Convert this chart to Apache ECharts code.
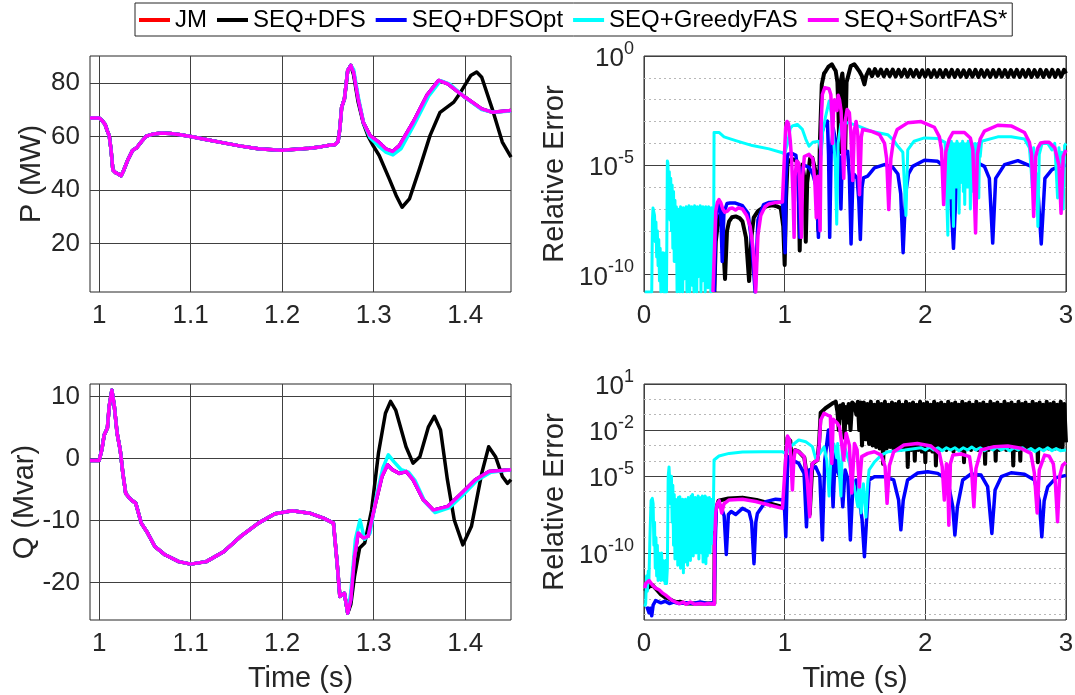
<!DOCTYPE html>
<html><head><meta charset="utf-8">
<script src="https://cdn.jsdelivr.net/npm/echarts@6/dist/echarts.min.js"></script>
<style>html,body{margin:0;padding:0;background:#fff}#c{width:1075px;height:695px}</style>
</head><body><div id="c"></div>
<script>
// ---------------- DATA ----------------
const seriesNames = ['JM', 'SEQ+DFS', 'SEQ+DFSOpt', 'SEQ+GreedyFAS', 'SEQ+SortFAS*'];
const seriesColors = ['#ff0000', '#000000', '#0000ff', '#00ffff', '#ff00ff'];

const leftTimeTicks = [1, 1.1, 1.2, 1.3, 1.4];
const pTicks = [20, 40, 60, 80];
const qTicks = [-20, -10, 0, 10];
const errPMajorExp = [-10, -5, 0];
const errPMinorExp = [-9, -8, -7, -6, -4, -3, -2, -1];
const errQMajorExp = [-10, -5, -2, 1];
const errQMinorExp = [-14, -13, -12, -11, -9, -8, -7, -6, -4, -3, -1, 0];

// P (MW): part where all methods coincide
const pShared = [[0.99,66.9],[1.0,66.9],[1.003,66],[1.0065,64.5],[1.009,62],[1.011,60.3],[1.013,55],[1.015,47.5],[1.018,46.5],[1.021,46],[1.024,45.3],[1.027,47.5],[1.031,51],[1.0365,54.8],[1.041,55.8],[1.046,58],[1.0515,60.1],[1.058,60.8],[1.068,61.3],[1.078,61.1],[1.087,60.7],[1.1,60],[1.118,58.8],[1.136,57.6],[1.155,56.4],[1.174,55.4],[1.19,55],[1.2,54.9],[1.215,55.2],[1.23,55.6],[1.243,56.2],[1.253,56.8],[1.258,57],[1.261,58],[1.263,63],[1.265,71],[1.268,74],[1.2716,84.6],[1.275,86.5]];
// JM, SEQ+DFSOpt and SEQ+SortFAS* coincide
const pTailRef = [[1.278,84],[1.283,74],[1.2886,65.3],[1.296,60.3],[1.3055,57.9],[1.313,55.4],[1.3205,54.4],[1.328,56.6],[1.343,65.3],[1.358,75.3],[1.371,80.9],[1.381,79.6],[1.3995,74.7],[1.418,70.3],[1.43,69],[1.45,69.7]];
const pTailGreedy = [[1.278,85],[1.283,75],[1.289,65],[1.296,59.5],[1.305,56.5],[1.313,54.2],[1.321,53.1],[1.33,55.5],[1.345,65],[1.36,75],[1.373,80.8],[1.383,79.5],[1.4,74.5],[1.418,70],[1.43,69],[1.45,69.5]];
const pTailDFS = [[1.278,83],[1.283,72.8],[1.2886,65],[1.294,60],[1.2995,56.5],[1.306,52.9],[1.317,44.2],[1.3245,38],[1.331,33.6],[1.339,36.7],[1.35,47.9],[1.3615,60.3],[1.3725,69],[1.3875,72.8],[1.395,76.5],[1.406,82.7],[1.4125,84],[1.418,82.1],[1.4295,70.3],[1.4405,57.9],[1.45,52.3]];

// Q (Mvar)
const qShared = [[0.99,-0.3],[1.0,-0.3],[1.003,1.5],[1.0055,3.8],[1.009,4.9],[1.011,8.4],[1.0139,11],[1.0166,8.4],[1.0196,4.1],[1.023,1.4],[1.026,-2.5],[1.029,-5.6],[1.0346,-6.6],[1.04,-7.2],[1.046,-10.4],[1.053,-12],[1.061,-14.2],[1.072,-15.5],[1.087,-16.6],[1.1,-17],[1.117,-16.6],[1.136,-15],[1.155,-12.5],[1.174,-10.4],[1.192,-8.9],[1.211,-8.4],[1.23,-8.8],[1.245,-9.6],[1.256,-10.4],[1.26,-16.8],[1.263,-22.2],[1.268,-21.7],[1.2716,-24.9]];
const qTailRef = [[1.275,-22.7],[1.279,-15.8],[1.283,-12],[1.289,-12.8],[1.294,-12.5],[1.302,-7.2],[1.309,-2.9],[1.315,-1],[1.3205,-1.8],[1.328,-2.4],[1.3356,-2.1],[1.343,-3.4],[1.354,-6.6],[1.365,-8.3],[1.381,-7.7],[1.396,-5.6],[1.411,-3.4],[1.426,-2.1],[1.45,-1.8]];
const qTailGreedy = [[1.275,-21.5],[1.28,-13],[1.285,-9.9],[1.29,-13],[1.296,-12],[1.303,-6],[1.31,-1.5],[1.316,0.6],[1.322,-0.5],[1.33,-1.8],[1.338,-2.2],[1.345,-3.5],[1.356,-7],[1.367,-8.7],[1.383,-7.9],[1.398,-5.8],[1.413,-3.5],[1.428,-2.2],[1.45,-1.8]];
const qTailDFS = [[1.275,-23.5],[1.279,-19],[1.2846,-14.4],[1.2902,-13.6],[1.2977,-8.3],[1.3052,0.9],[1.3128,7.3],[1.3184,9.2],[1.324,7.8],[1.3353,1.9],[1.3429,-0.75],[1.3504,0.3],[1.3598,5.1],[1.3662,6.8],[1.373,4.6],[1.3805,-3.4],[1.388,-9.9],[1.3974,-13.9],[1.4068,-10.9],[1.418,-2.4],[1.4256,1.9],[1.4331,0.3],[1.4406,-2.9],[1.4462,-4],[1.45,-3.4]];

// Relative error of P, stored as [time, log10(error)]
const errPDFS = [[0.5,-10.8],[0.51,-8.5],[0.53,-7.4],[0.545,-7.26],[0.56,-8.2],[0.576,-10.2],[0.59,-8.0],[0.605,-7.57],[0.625,-7.38],[0.652,-7.34],[0.68,-7.42],[0.7,-7.57],[0.725,-8.3],[0.747,-10.3],[0.765,-8.2],[0.78,-7.4],[0.81,-7.1],[0.84,-6.96],[0.88,-6.86],[0.913,-6.83],[0.945,-6.88],[0.972,-6.96],[0.99,-7.8],[1.0,-9.56],[1.01,-6.5],[1.02,-4.9],[1.05,-4.7],[1.085,-4.8],[1.1,-6.0],[1.107,-8.9],[1.115,-6.0],[1.126,-4.97],[1.14,-5.6],[1.15,-8.5],[1.16,-5.8],[1.18,-4.7],[1.197,-4.66],[1.22,-5.3],[1.24,-8.0],[1.25,-4.0],[1.264,-1.3],[1.28,-0.8],[1.292,-0.69],[1.31,-0.5],[1.335,-0.38],[1.35,-0.55],[1.363,-0.69],[1.375,-1.2],[1.382,-2.5],[1.39,-4.4],[1.398,-1.2],[1.41,-0.8],[1.42,-1.5],[1.43,-4.4],[1.44,-1.2],[1.47,-0.46],[1.495,-0.38],[1.515,-0.55],[1.53,-0.69],[1.548,-0.9],[1.567,-1.3],[1.58,-0.9],[1.6,-0.62],[1.621,-0.92],[1.642,-0.6],[1.663,-0.9],[1.684,-0.62],[1.705,-0.93],[1.726,-0.63],[1.747,-0.92],[1.768,-0.62],[1.789,-0.94],[1.81,-0.63],[1.831,-0.93],[1.852,-0.62],[1.873,-0.95],[1.894,-0.63],[1.915,-0.94],[1.936,-0.64],[1.957,-0.96],[1.978,-0.65],[1.999,-0.95],[2.02,-0.64],[2.041,-0.96],[2.062,-0.65],[2.083,-0.95],[2.104,-0.64],[2.125,-0.96],[2.146,-0.64],[2.167,-0.95],[2.188,-0.63],[2.209,-0.96],[2.23,-0.64],[2.251,-0.95],[2.272,-0.65],[2.293,-0.96],[2.314,-0.64],[2.335,-0.95],[2.356,-0.63],[2.377,-0.96],[2.398,-0.64],[2.419,-0.95],[2.44,-0.65],[2.461,-0.96],[2.482,-0.64],[2.503,-0.95],[2.524,-0.63],[2.545,-0.95],[2.566,-0.64],[2.587,-0.96],[2.608,-0.64],[2.629,-0.95],[2.65,-0.63],[2.671,-0.96],[2.692,-0.64],[2.713,-0.95],[2.734,-0.63],[2.755,-0.96],[2.776,-0.64],[2.797,-0.95],[2.818,-0.63],[2.839,-0.96],[2.86,-0.64],[2.881,-0.95],[2.902,-0.63],[2.923,-0.96],[2.944,-0.64],[2.965,-0.95],[2.986,-0.63],[3.0,-0.8]];
const errPDFSOpt = [[0.5,-10.8],[0.51,-7.5],[0.53,-6.8],[0.545,-7.0],[0.556,-9.4],[0.568,-7.2],[0.59,-6.75],[0.61,-6.73],[0.65,-6.73],[0.7,-6.85],[0.74,-7.2],[0.765,-8.5],[0.79,-10.8],[0.81,-7.5],[0.85,-6.8],[0.89,-6.7],[0.94,-6.68],[0.984,-6.7],[0.995,-7.6],[1.003,-9.0],[1.01,-5.5],[1.02,-4.5],[1.05,-4.45],[1.08,-4.55],[1.095,-5.5],[1.107,-8.3],[1.12,-5.2],[1.14,-5.0],[1.173,-5.1],[1.2,-5.4],[1.225,-6.0],[1.24,-8.3],[1.255,-4.5],[1.268,-3.44],[1.285,-3.1],[1.304,-2.98],[1.312,-4.5],[1.32,-8.3],[1.33,-4.5],[1.345,-3.3],[1.36,-3.8],[1.37,-4.8],[1.377,-4.36],[1.39,-4.7],[1.4,-7.0],[1.41,-4.6],[1.448,-4.36],[1.46,-5.5],[1.472,-8.6],[1.485,-5.6],[1.496,-5.43],[1.515,-5.6],[1.527,-6.6],[1.538,-8.4],[1.55,-6.0],[1.56,-5.58],[1.59,-5.5],[1.638,-5.12],[1.709,-4.97],[1.768,-5.09],[1.805,-5.4],[1.825,-6.3],[1.842,-9.0],[1.86,-6.3],[1.88,-5.4],[1.91,-5.05],[1.993,-4.77],[2.088,-4.82],[2.14,-5.1],[2.175,-5.7],[2.2,-8.8],[2.222,-5.7],[2.255,-5.1],[2.3,-4.9],[2.35,-4.82],[2.42,-5.05],[2.455,-5.6],[2.479,-8.56],[2.5,-5.6],[2.563,-4.97],[2.658,-4.79],[2.753,-5.05],[2.795,-5.6],[2.824,-8.6],[2.85,-5.6],[2.9,-5.2],[2.95,-5.05],[3.0,-5.0]];
const errPGreedy = [[0.005,-10.8],[0.055,-10.8],[0.06,-7.5],[0.064,-6.96],[0.07,-7.0],[0.075,-7.3],[0.08,-8.5],[0.085,-7.6],[0.09,-9.2],[0.095,-8.0],[0.1,-9.6],[0.105,-8.4],[0.11,-10.3],[0.115,-8.8],[0.12,-10.8],[0.125,-9.2],[0.13,-10.5],[0.135,-9.0],[0.14,-10.8],[0.145,-9.5],[0.15,-10.8],[0.155,-9.0],[0.16,-10.8],[0.166,-4.8],[0.17,-4.9],[0.175,-6.5],[0.18,-5.3],[0.185,-7.5],[0.19,-5.6],[0.195,-8.0],[0.2,-5.9],[0.205,-8.8],[0.21,-6.2],[0.215,-9.4],[0.22,-6.6],[0.225,-8.9],[0.23,-6.9],[0.235,-10.8],[0.24,-7.0],[0.245,-9.9],[0.25,-7.1],[0.255,-10.8],[0.26,-6.9],[0.265,-9.5],[0.27,-7.0],[0.275,-10.8],[0.28,-6.95],[0.285,-10.2],[0.29,-7.0],[0.295,-9.6],[0.3,-6.9],[0.305,-10.8],[0.31,-7.0],[0.315,-10.0],[0.32,-6.85],[0.325,-10.8],[0.33,-7.0],[0.335,-9.3],[0.34,-6.9],[0.345,-10.5],[0.35,-7.0],[0.355,-10.8],[0.36,-6.85],[0.365,-9.8],[0.37,-7.0],[0.375,-10.8],[0.38,-6.9],[0.385,-10.1],[0.39,-7.0],[0.395,-9.5],[0.4,-6.85],[0.405,-10.8],[0.41,-7.0],[0.415,-10.3],[0.42,-6.9],[0.425,-9.7],[0.43,-7.0],[0.435,-10.8],[0.44,-6.9],[0.445,-10.0],[0.45,-7.0],[0.455,-10.6],[0.46,-6.9],[0.465,-9.4],[0.47,-7.0],[0.475,-10.8],[0.48,-6.95],[0.485,-10.2],[0.49,-7.0],[0.495,-9.0],[0.498,-3.5],[0.533,-3.5],[0.569,-3.7],[0.652,-3.87],[0.77,-4.1],[0.889,-4.25],[0.984,-4.43],[1.0,-4.5],[1.02,-4.0],[1.04,-3.3],[1.055,-3.2],[1.09,-3.13],[1.126,-3.36],[1.15,-3.8],[1.173,-4.13],[1.2,-3.95],[1.245,-3.9],[1.26,-4.5],[1.27,-3.5],[1.29,-2.8],[1.316,-2.06],[1.33,-2.6],[1.345,-3.5],[1.36,-5.0],[1.37,-7.7],[1.38,-4.0],[1.4,-3.1],[1.45,-3.05],[1.52,-3.2],[1.614,-3.44],[1.733,-3.6],[1.78,-3.9],[1.8,-4.1],[1.84,-4.4],[1.862,-7.3],[1.875,-4.3],[1.92,-3.9],[1.993,-3.75],[2.09,-3.78],[2.14,-3.95],[2.16,-8.2],[2.165,-4.3],[2.17,-6.0],[2.175,-4.1],[2.18,-6.5],[2.185,-3.9],[2.19,-5.5],[2.195,-4.0],[2.2,-7.8],[2.205,-4.1],[2.21,-5.8],[2.215,-4.0],[2.22,-6.0],[2.225,-3.9],[2.23,-5.2],[2.235,-4.0],[2.24,-7.2],[2.245,-4.1],[2.25,-5.8],[2.255,-4.0],[2.26,-5.5],[2.265,-3.9],[2.27,-6.2],[2.275,-4.0],[2.28,-6.8],[2.285,-4.1],[2.29,-5.4],[2.295,-4.0],[2.3,-6.0],[2.305,-3.9],[2.31,-5.6],[2.315,-4.0],[2.32,-7.0],[2.325,-4.1],[2.33,-5.7],[2.335,-4.0],[2.34,-6.2],[2.345,-4.1],[2.35,-5.3],[2.355,-4.0],[2.36,-5.6],[2.365,-4.1],[2.37,-6.1],[2.375,-4.0],[2.38,-6.5],[2.385,-4.1],[2.39,-4.6],[2.4,-3.9],[2.515,-3.7],[2.61,-3.7],[2.705,-3.8],[2.74,-4.2],[2.75,-5.0],[2.76,-6.0],[2.77,-4.2],[2.78,-5.2],[2.79,-5.5],[2.8,-7.8],[2.81,-4.5],[2.83,-4.0],[2.87,-4.0],[2.9,-4.3],[2.92,-4.0],[2.93,-5.2],[2.94,-6.5],[2.95,-4.2],[2.96,-5.0],[2.97,-4.4],[2.98,-7.0],[2.99,-4.1],[3.0,-4.0]];
const errPSort = [[0.49,-10.8],[0.5,-9.0],[0.51,-7.1],[0.522,-6.7],[0.533,-6.57],[0.545,-6.7],[0.56,-7.0],[0.575,-7.15],[0.593,-7.1],[0.61,-6.98],[0.628,-6.96],[0.65,-7.05],[0.67,-6.95],[0.7,-7.0],[0.73,-7.3],[0.755,-7.8],[0.775,-8.8],[0.794,-10.8],[0.81,-8.2],[0.83,-7.3],[0.86,-6.9],[0.889,-6.77],[0.94,-6.7],[0.984,-6.68],[0.998,-6.7],[1.007,-3.29],[1.017,-3.0],[1.027,-3.1],[1.04,-3.9],[1.05,-4.8],[1.06,-6.5],[1.067,-8.3],[1.074,-5.5],[1.085,-4.8],[1.1,-4.9],[1.11,-6.5],[1.119,-8.3],[1.128,-5.5],[1.14,-4.6],[1.173,-4.5],[1.2,-4.7],[1.215,-5.8],[1.225,-7.4],[1.235,-5.5],[1.245,-6.5],[1.252,-8.0],[1.26,-3.0],[1.268,-1.76],[1.285,-1.45],[1.297,-1.38],[1.315,-1.5],[1.328,-1.76],[1.335,-2.6],[1.34,-4.0],[1.347,-2.6],[1.355,-2.0],[1.363,-2.0],[1.372,-2.5],[1.38,-1.8],[1.39,-2.0],[1.401,-2.52],[1.41,-4.0],[1.42,-5.6],[1.43,-3.0],[1.444,-2.45],[1.46,-2.6],[1.47,-3.5],[1.484,-5.7],[1.495,-3.4],[1.508,-3.0],[1.52,-3.6],[1.532,-6.35],[1.545,-3.7],[1.555,-3.36],[1.614,-3.44],[1.674,-3.6],[1.71,-4.0],[1.725,-4.7],[1.74,-7.03],[1.755,-4.7],[1.775,-3.8],[1.8,-3.36],[1.874,-3.06],[1.97,-3.0],[2.064,-3.26],[2.1,-3.7],[2.115,-4.3],[2.13,-6.8],[2.145,-4.4],[2.17,-3.8],[2.196,-3.5],[2.278,-3.5],[2.32,-3.75],[2.338,-4.3],[2.357,-8.1],[2.37,-4.5],[2.39,-3.8],[2.42,-3.44],[2.515,-3.17],[2.61,-3.2],[2.705,-3.5],[2.74,-3.95],[2.755,-4.5],[2.77,-7.34],[2.785,-4.6],[2.8,-4.2],[2.82,-3.98],[2.85,-3.95],[2.88,-3.95],[2.92,-4.2],[2.95,-5.0],[2.965,-7.2],[2.98,-4.6],[3.0,-4.3]];

// Relative error of Q, stored as [time, log10(error)]
const errQDFS = [[0.005,-12.5],[0.036,-12.2],[0.06,-12.1],[0.09,-12.4],[0.12,-12.7],[0.15,-12.9],[0.18,-13.0],[0.22,-13.2],[0.26,-13.2],[0.3,-13.3],[0.35,-13.3],[0.4,-13.3],[0.45,-13.3],[0.5,-13.3],[0.502,-9.0],[0.51,-7.2],[0.53,-6.6],[0.6,-6.45],[0.7,-6.4],[0.8,-6.55],[0.9,-6.8],[0.984,-7.0],[1.0,-7.0],[1.01,-3.6],[1.02,-2.5],[1.04,-2.7],[1.05,-4.0],[1.065,-3.6],[1.074,-3.3],[1.1,-3.4],[1.14,-3.8],[1.16,-5.2],[1.178,-7.5],[1.197,-4.2],[1.233,-3.95],[1.245,-2.8],[1.256,-0.87],[1.29,-0.58],[1.34,-0.26],[1.363,-0.15],[1.375,-0.8],[1.385,-2.0],[1.395,-0.4],[1.405,-1.2],[1.415,-0.3],[1.425,-2.5],[1.435,-0.5],[1.445,-1.5],[1.455,-0.3],[1.468,-2.0],[1.48,-0.2],[1.495,-0.35],[1.51,-1.0],[1.52,-0.15],[1.53,-2.0],[1.54,-0.2],[1.55,-3.0],
 [1.5625,-0.2],[1.575,-2.6],[1.5875,-0.3],[1.6,-2.9],[1.6125,-0.15],[1.625,-3.0],[1.6375,-0.35],[1.65,-3.1],[1.6625,-0.15],[1.675,-3.2],[1.6875,-0.3],[1.7,-4.2],[1.7125,-0.15],[1.725,-3.2],[1.7375,-0.35],[1.75,-3.1],[1.7625,-0.2],[1.775,-3.3],[1.7875,-0.3],[1.8,-3.2],[1.8125,-0.15],[1.825,-3.3],[1.8375,-0.35],[1.85,-3.2],[1.8625,-0.15],[1.875,-4.4],[1.8875,-0.3],[1.9,-3.3],[1.9125,-0.2],[1.925,-4.0],[1.9375,-0.35],[1.95,-3.3],[1.9625,-0.15],[1.975,-3.4],[1.9875,-0.3],[2.0,-4.1],[2.0125,-0.2],[2.025,-3.3],[2.0375,-0.35],[2.05,-3.4],[2.0625,-0.15],[2.075,-4.3],[2.0875,-0.3],[2.1,-3.3],[2.1125,-0.2],[2.125,-3.2],[2.1375,-0.35],[2.15,-3.3],[2.1625,-0.15],[2.175,-3.2],[2.1875,-0.3],[2.2,-3.4],[2.2125,-0.2],[2.225,-3.2],[2.2375,-0.35],[2.25,-3.3],[2.2625,-0.15],[2.275,-4.1],[2.2875,-0.3],[2.3,-3.2],[2.3125,-0.2],[2.325,-3.3],[2.3375,-0.35],[2.35,-3.2],[2.3625,-0.15],[2.375,-3.3],[2.3875,-0.3],[2.4,-3.2],[2.4125,-0.2],[2.425,-4.2],[2.4375,-0.35],[2.45,-3.3],[2.4625,-0.15],[2.475,-3.2],[2.4875,-0.3],[2.5,-4.0],[2.5125,-0.2],[2.525,-3.3],[2.5375,-0.35],[2.55,-3.2],[2.5625,-0.15],[2.575,-3.3],[2.5875,-0.3],[2.6,-3.2],[2.6125,-0.2],[2.625,-4.3],[2.6375,-0.35],[2.65,-3.3],[2.6625,-0.15],[2.675,-4.0],[2.6875,-0.3],[2.7,-3.2],[2.7125,-0.2],[2.725,-3.3],[2.7375,-0.35],[2.75,-3.2],[2.7625,-0.15],[2.775,-3.3],[2.7875,-0.3],[2.8,-4.1],[2.8125,-0.2],[2.825,-3.2],[2.8375,-0.35],[2.85,-3.1],[2.8625,-0.15],[2.875,-3.2],[2.8875,-0.3],[2.9,-3.1],[2.9125,-0.2],[2.925,-3.2],[2.9375,-0.35],[2.95,-3.1],[2.9625,-0.15],[2.975,-3.2],[2.9875,-0.3],[3.0,-2.8]];
const errQDFSOpt = [[0.02,-13.5],[0.036,-13.9],[0.045,-13.6],[0.055,-14.1],[0.065,-13.4],[0.083,-13.1],[0.12,-13.25],[0.15,-13.15],[0.18,-13.3],[0.21,-13.2],[0.25,-13.3],[0.3,-13.25],[0.35,-13.3],[0.4,-13.2],[0.45,-13.3],[0.498,-13.25],[0.5,-12.6],[0.505,-9.8],[0.514,-7.0],[0.533,-6.77],[0.552,-7.1],[0.57,-7.6],[0.585,-10.1],[0.6,-7.5],[0.62,-7.3],[0.652,-7.5],[0.7,-7.1],[0.747,-7.32],[0.765,-8.0],[0.782,-10.7],[0.795,-8.0],[0.806,-7.43],[0.865,-6.66],[0.936,-6.5],[0.996,-6.55],[1.008,-8.95],[1.02,-4.5],[1.027,-3.73],[1.055,-3.95],[1.1,-4.17],[1.138,-4.82],[1.155,-8.3],[1.173,-4.6],[1.22,-4.39],[1.25,-5.0],[1.268,-9.16],[1.285,-4.0],[1.311,-2.0],[1.33,-3.5],[1.344,-7.0],[1.36,-3.5],[1.377,-4.71],[1.4,-5.2],[1.413,-7.0],[1.43,-4.6],[1.45,-5.2],[1.467,-9.16],[1.485,-5.6],[1.508,-5.25],[1.53,-6.5],[1.55,-7.8],[1.567,-10.25],[1.585,-7.4],[1.6,-5.25],[1.638,-5.04],[1.71,-5.04],[1.775,-5.25],[1.81,-6.56],[1.826,-8.5],[1.843,-6.56],[1.874,-5.25],[1.946,-4.8],[2.017,-4.71],[2.088,-4.82],[2.159,-5.25],[2.195,-7.0],[2.21,-8.84],[2.228,-7.0],[2.266,-5.25],[2.325,-4.86],[2.396,-4.93],[2.443,-5.69],[2.473,-8.73],[2.496,-5.9],[2.54,-5.04],[2.61,-4.78],[2.705,-4.88],[2.775,-5.25],[2.81,-6.6],[2.828,-8.95],[2.845,-6.6],[2.87,-5.7],[2.93,-5.1],[3.0,-4.95]];
const errQGreedy = [[0.005,-13.5],[0.012,-13.3],[0.018,-11.5],[0.024,-12.5],[0.03,-11.2],[0.035,-11.8],[0.042,-9.0],[0.05,-6.6],[0.059,-6.45],[0.065,-6.8],[0.07,-9.5],[0.075,-8.0],[0.08,-11.0],[0.085,-9.0],[0.09,-11.5],[0.095,-9.5],[0.1,-11.8],[0.105,-10.0],[0.11,-11.3],[0.115,-10.2],[0.12,-11.8],[0.125,-10.0],[0.13,-11.5],[0.135,-10.5],[0.14,-11.8],[0.145,-10.8],[0.15,-12.0],[0.155,-10.5],[0.16,-12.0],[0.166,-11.0],[0.172,-5.0],[0.178,-4.4],[0.184,-4.5],[0.19,-6.8],[0.195,-5.0],[0.2,-8.0],[0.205,-5.6],[0.21,-9.5],[0.215,-6.2],[0.22,-10.4],[0.225,-6.5],[0.23,-10.0],[0.235,-6.6],[0.24,-10.8],[0.245,-6.4],[0.25,-10.2],[0.255,-6.35],[0.26,-11.0],[0.265,-6.6],[0.27,-10.4],[0.275,-6.5],[0.28,-11.3],[0.285,-6.7],[0.29,-10.6],[0.295,-6.5],[0.3,-10.0],[0.305,-6.6],[0.31,-10.8],[0.315,-6.4],[0.32,-9.8],[0.325,-6.5],[0.33,-10.5],[0.335,-6.3],[0.34,-9.6],[0.345,-6.2],[0.35,-10.2],[0.355,-6.5],[0.36,-9.4],[0.365,-6.4],[0.37,-10.0],[0.375,-6.5],[0.38,-9.8],[0.385,-6.3],[0.39,-10.4],[0.395,-6.5],[0.4,-9.2],[0.405,-6.4],[0.41,-10.0],[0.415,-6.3],[0.42,-10.6],[0.425,-6.5],[0.43,-9.8],[0.435,-6.3],[0.44,-10.7],[0.445,-6.4],[0.45,-10.2],[0.455,-6.5],[0.46,-9.6],[0.465,-6.4],[0.47,-10.0],[0.475,-6.5],[0.48,-9.4],[0.485,-6.5],[0.49,-8.5],[0.495,-6.0],[0.498,-3.95],[0.51,-3.84],[0.533,-3.69],[0.605,-3.52],[0.7,-3.43],[0.842,-3.41],[0.984,-3.41],[1.0,-3.5],[1.02,-3.4],[1.04,-3.1],[1.055,-2.97],[1.1,-2.65],[1.15,-2.76],[1.197,-3.08],[1.22,-3.84],[1.245,-3.6],[1.28,-3.1],[1.3,-4.0],[1.316,-6.3],[1.33,-3.5],[1.35,-2.9],[1.37,-3.8],[1.377,-2.87],[1.39,-5.0],[1.4,-6.3],[1.41,-3.0],[1.43,-3.2],[1.46,-4.17],[1.49,-5.5],[1.52,-7.0],[1.53,-5.0],[1.543,-7.4],[1.56,-5.5],[1.578,-7.67],[1.59,-5.5],[1.6,-4.6],[1.64,-4.06],[1.687,-3.63],[1.735,-3.41],[1.853,-3.3],[1.97,-3.15],[2.0,-3.3],[2.03,-3.1],[2.06,-3.3],[2.09,-3.15],[2.12,-3.35],[2.15,-3.15],[2.18,-3.3],[2.21,-3.15],[2.24,-3.35],[2.27,-3.15],[2.3,-3.3],[2.33,-3.1],[2.36,-3.3],[2.39,-3.15],[2.42,-3.35],[2.45,-3.15],[2.48,-3.3],[2.51,-3.1],[2.54,-3.3],[2.57,-3.15],[2.6,-3.35],[2.63,-3.15],[2.66,-3.3],[2.69,-3.15],[2.72,-3.35],[2.75,-3.2],[2.78,-3.4],[2.81,-3.2],[2.84,-3.35],[2.87,-3.15],[2.9,-3.35],[2.93,-3.2],[2.96,-3.35],[3.0,-3.3]];
const errQSort = [[0.005,-12.3],[0.012,-12.0],[0.036,-11.8],[0.06,-12.1],[0.083,-12.3],[0.107,-12.4],[0.13,-12.6],[0.154,-12.75],[0.2,-13.1],[0.25,-13.3],[0.28,-13.2],[0.3,-13.35],[0.33,-13.2],[0.36,-13.35],[0.4,-13.3],[0.43,-13.35],[0.46,-13.3],[0.5,-13.35],[0.502,-9.2],[0.51,-7.4],[0.52,-6.8],[0.535,-6.6],[0.552,-7.4],[0.569,-6.8],[0.605,-6.55],[0.7,-6.5],[0.794,-6.65],[0.889,-6.88],[0.984,-7.1],[0.998,-7.0],[1.01,-3.5],[1.02,-2.39],[1.035,-2.65],[1.045,-4.0],[1.055,-5.9],[1.065,-4.0],[1.074,-3.3],[1.1,-3.41],[1.138,-3.73],[1.16,-5.25],[1.178,-7.64],[1.19,-4.8],[1.197,-4.17],[1.233,-3.95],[1.245,-3.0],[1.256,-1.34],[1.28,-0.91],[1.304,-1.02],[1.325,-1.1],[1.335,-4.17],[1.345,-1.3],[1.375,-1.56],[1.39,-1.8],[1.42,-3.95],[1.437,-2.2],[1.46,-3.0],[1.477,-6.1],[1.496,-2.87],[1.515,-3.3],[1.531,-5.7],[1.548,-3.73],[1.591,-3.52],[1.638,-3.41],[1.686,-3.63],[1.714,-4.39],[1.728,-6.77],[1.745,-4.3],[1.775,-3.41],[1.848,-2.97],[1.943,-2.87],[2.04,-3.04],[2.1,-3.52],[2.12,-4.39],[2.135,-6.56],[2.15,-4.2],[2.158,-4.4],[2.167,-8.2],[2.178,-4.2],[2.196,-3.63],[2.255,-3.56],[2.314,-3.73],[2.33,-4.8],[2.345,-7.0],[2.36,-4.5],[2.396,-3.3],[2.491,-3.08],[2.586,-3.04],[2.68,-3.19],[2.75,-3.52],[2.775,-4.8],[2.795,-7.4],[2.81,-4.6],[2.848,-3.63],[2.88,-3.7],[2.91,-4.2],[2.925,-5.5],[2.94,-7.97],[2.955,-5.0],[2.975,-4.3],[3.0,-4.1]];

// ---------------- CHART ----------------
const FONT = '"Liberation Sans", Arial, Helvetica, sans-serif';
const TXT = '#262626';
const GRIDC = '#404040';
const MINORC = '#b8b8b8';

const grids = [
  {left: 90, top: 56, width: 421, height: 236},
  {left: 644, top: 56, width: 422, height: 236},
  {left: 90, top: 384, width: 421, height: 236},
  {left: 644, top: 384, width: 422, height: 236}
].map(g => Object.assign(g, {show: true, borderColor: TXT, borderWidth: 1, backgroundColor: '#fff', containLabel: false, outerBoundsMode: 'none'}));

const tickLabel = {fontSize: 26, fontFamily: FONT, color: TXT};
const nameStyle = {fontSize: 29, fontFamily: FONT, color: TXT};

function timeAxisLeft(gi, withName) {
  return {
    type: 'value', gridIndex: gi, min: 0.99, max: 1.45,
    axisLine: {show: false}, axisTick: {show: false, customValues: leftTimeTicks},
    axisLabel: Object.assign({customValues: leftTimeTicks, margin: 11}, tickLabel),
    splitLine: {show: true, lineStyle: {color: GRIDC, width: 1}},
    name: withName ? 'Time (s)' : '', nameLocation: 'middle', nameGap: 44, nameTextStyle: nameStyle, nameMoveOverlap: false
  };
}
function timeAxisRight(gi, withName) {
  return {
    type: 'value', gridIndex: gi, min: 0, max: 3, interval: 1,
    axisLine: {show: false}, axisTick: {show: false},
    axisLabel: Object.assign({margin: 11, showMinLabel: true, showMaxLabel: true}, tickLabel),
    splitLine: {show: true, lineStyle: {color: GRIDC, width: 1}},
    name: withName ? 'Time (s)' : '', nameLocation: 'middle', nameGap: 44, nameTextStyle: nameStyle, nameMoveOverlap: false
  };
}
function linearY(gi, min, max, ticks, name, gap) {
  return {
    type: 'value', gridIndex: gi, min: min, max: max,
    axisLine: {show: false}, axisTick: {show: false, customValues: ticks},
    axisLabel: Object.assign({customValues: ticks, margin: 10}, tickLabel),
    splitLine: {show: true, lineStyle: {color: GRIDC, width: 1}},
    name: name, nameLocation: 'middle', nameGap: gap, nameTextStyle: nameStyle, nameMoveOverlap: false
  };
}
function logMajorY(gi, min, max, majors, name, gap) {
  return {
    type: 'value', gridIndex: gi, min: min, max: max, position: 'left',
    axisLine: {show: false}, axisTick: {show: false, customValues: majors},
    axisLabel: {
      customValues: majors, margin: 10,
      formatter: v => '{b|10}{s|' + v + '}',
      rich: {
        b: {fontSize: 26, fontFamily: FONT, color: TXT, verticalAlign: 'bottom', lineHeight: 32},
        s: {fontSize: 18, fontFamily: FONT, color: TXT, verticalAlign: 'top', lineHeight: 32}
      }
    },
    splitLine: {show: true, lineStyle: {color: GRIDC, width: 1}},
    name: name, nameLocation: 'middle', nameGap: gap, nameTextStyle: nameStyle, nameMoveOverlap: false, z: 3
  };
}
function logMinorY(gi, min, max, minors) {
  return {
    type: 'value', gridIndex: gi, min: min, max: max, position: 'left', offset: 0,
    axisLine: {show: false}, axisTick: {show: false, customValues: minors},
    axisLabel: {show: false, customValues: minors},
    splitLine: {show: true, lineStyle: {color: MINORC, width: 1, type: [2, 3]}},
    z: 1
  };
}

const series = [];
function addLine(name, color, data, xi, yi, w) {
  series.push({
    name: name, type: 'line', data: data, xAxisIndex: xi, yAxisIndex: yi,
    showSymbol: false, symbol: 'none', clip: true, silent: true,
    lineStyle: {color: color, width: w || 3.5, join: 'round'}, itemStyle: {color: color},
    emphasis: {disabled: true}, animation: false
  });
}
// P (MW)
addLine(seriesNames[0], seriesColors[0], pShared.concat(pTailRef), 0, 0);
addLine(seriesNames[1], seriesColors[1], pShared.concat(pTailDFS), 0, 0);
addLine(seriesNames[2], seriesColors[2], pShared.concat(pTailRef), 0, 0);
addLine(seriesNames[3], seriesColors[3], pShared.concat(pTailGreedy), 0, 0);
addLine(seriesNames[4], seriesColors[4], pShared.concat(pTailRef), 0, 0);
// error of P
addLine(seriesNames[1], seriesColors[1], errPDFS, 1, 1, 4);
addLine(seriesNames[2], seriesColors[2], errPDFSOpt, 1, 1);
addLine(seriesNames[3], seriesColors[3], errPGreedy, 1, 1, 3);
addLine(seriesNames[4], seriesColors[4], errPSort, 1, 1);
// Q (Mvar)
addLine(seriesNames[0], seriesColors[0], qShared.concat(qTailRef), 2, 2);
addLine(seriesNames[1], seriesColors[1], qShared.concat(qTailDFS), 2, 2);
addLine(seriesNames[2], seriesColors[2], qShared.concat(qTailRef), 2, 2);
addLine(seriesNames[3], seriesColors[3], qShared.concat(qTailGreedy), 2, 2);
addLine(seriesNames[4], seriesColors[4], qShared.concat(qTailRef), 2, 2);
// error of Q
addLine(seriesNames[1], seriesColors[1], errQDFS, 3, 3, 4);
addLine(seriesNames[2], seriesColors[2], errQDFSOpt, 3, 3);
addLine(seriesNames[3], seriesColors[3], errQGreedy, 3, 3, 3);
addLine(seriesNames[4], seriesColors[4], errQSort, 3, 3);

const option = {
  backgroundColor: '#ffffff',
  animation: false,
  textStyle: {fontFamily: FONT},
  legend: {
    data: seriesNames, left: 135, top: 3, orient: 'horizontal',
    icon: 'rect', itemWidth: 31, itemHeight: 4, itemGap: 10,
    padding: [5, 5, 4, 4], borderColor: TXT, borderWidth: 1, backgroundColor: '#fff',
    textStyle: {fontSize: 24, fontFamily: FONT, color: '#000'},
    selectedMode: false
  },
  grid: grids,
  xAxis: [timeAxisLeft(0, false), timeAxisRight(1, false), timeAxisLeft(2, true), timeAxisRight(3, true)],
  yAxis: [
    linearY(0, 2, 90, pTicks, 'P (MW)', 44),
    logMajorY(1, -10.8, 0, errPMajorExp, 'Relative Error', 75),
    linearY(2, -26, 12, qTicks, 'Q (Mvar)', 51),
    logMajorY(3, -14.37, 1, errQMajorExp, 'Relative Error', 75),
    logMinorY(1, -10.8, 0, errPMinorExp),
    logMinorY(3, -14.37, 1, errQMinorExp)
  ],
  series: series
};
const chart = echarts.init(document.getElementById('c'), null, {renderer: 'canvas'});
chart.setOption(option);
</script></body></html>
